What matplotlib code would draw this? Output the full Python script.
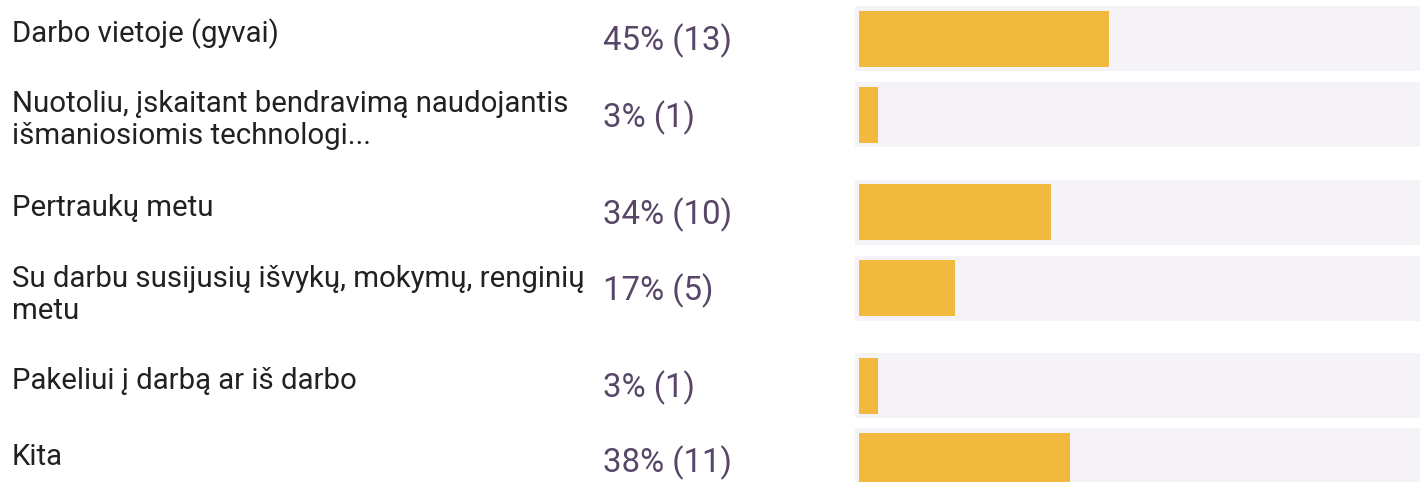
import matplotlib
matplotlib.use('Agg')
import matplotlib.pyplot as plt
from matplotlib.transforms import blended_transform_factory

plt.rcParams['font.family'] = ['Roboto', 'DejaVu Sans']

# answers to a multi-choice question, 29 respondents
labels = ['Darbo vietoje (gyvai)',
          'Nuotoliu, įskaitant bendravimą naudojantis\nišmaniosiomis technologi...',
          'Pertraukų metu',
          'Su darbu susijusių išvykų, mokymų, renginių\nmetu',
          'Pakeliui į darbą ar iš darbo',
          'Kita']
counts = [13, 1, 10, 5, 1, 11]
respondents = 29

# layout (pixels from top of a 482 px high figure)
row_y = [38.5, 114.5, 212, 288, 385.5, 460.5]
label_base = [42, 112, 216, 287, 389, 465]
pct_base = [50, 127, 224, 300, 397, 472]
line_gap = 32

W, H = 1426, 482
fig = plt.figure(figsize=(W / 100, H / 100), dpi=100)

track_l, track_r = 855, 1420
px_per = 19.2
ax = fig.add_axes([track_l / W, 0, (track_r - track_l) / W, 1])
xmin = -4 / px_per
xmax = xmin + (track_r - track_l) / px_per
ax.set_xlim(xmin, xmax)
ax.set_ylim(H, 0)
ax.axis('off')

# grey track behind each bar, then the count bar
ax.barh(row_y, xmax - xmin, left=xmin, height=65, color='#f5f3f7', linewidth=0)
ax.barh(row_y, counts, left=0, height=56, color='#f1b93d', linewidth=0)

tr = blended_transform_factory(fig.transFigure, ax.transData)
for lab, c, yl, yp in zip(labels, counts, label_base, pct_base):
    for i, line in enumerate(lab.split('\n')):
        ax.text(12 / W, yl + i * line_gap, line, transform=tr, ha='left',
                va='baseline', fontsize=21.2, color='#202124')
    pct = round(c / respondents * 100)
    ax.text(603 / W, yp, f'{pct}% ({c})', transform=tr, ha='left',
            va='baseline', fontsize=23.8, color='#574668')

fig.savefig('out.png', dpi=100)
